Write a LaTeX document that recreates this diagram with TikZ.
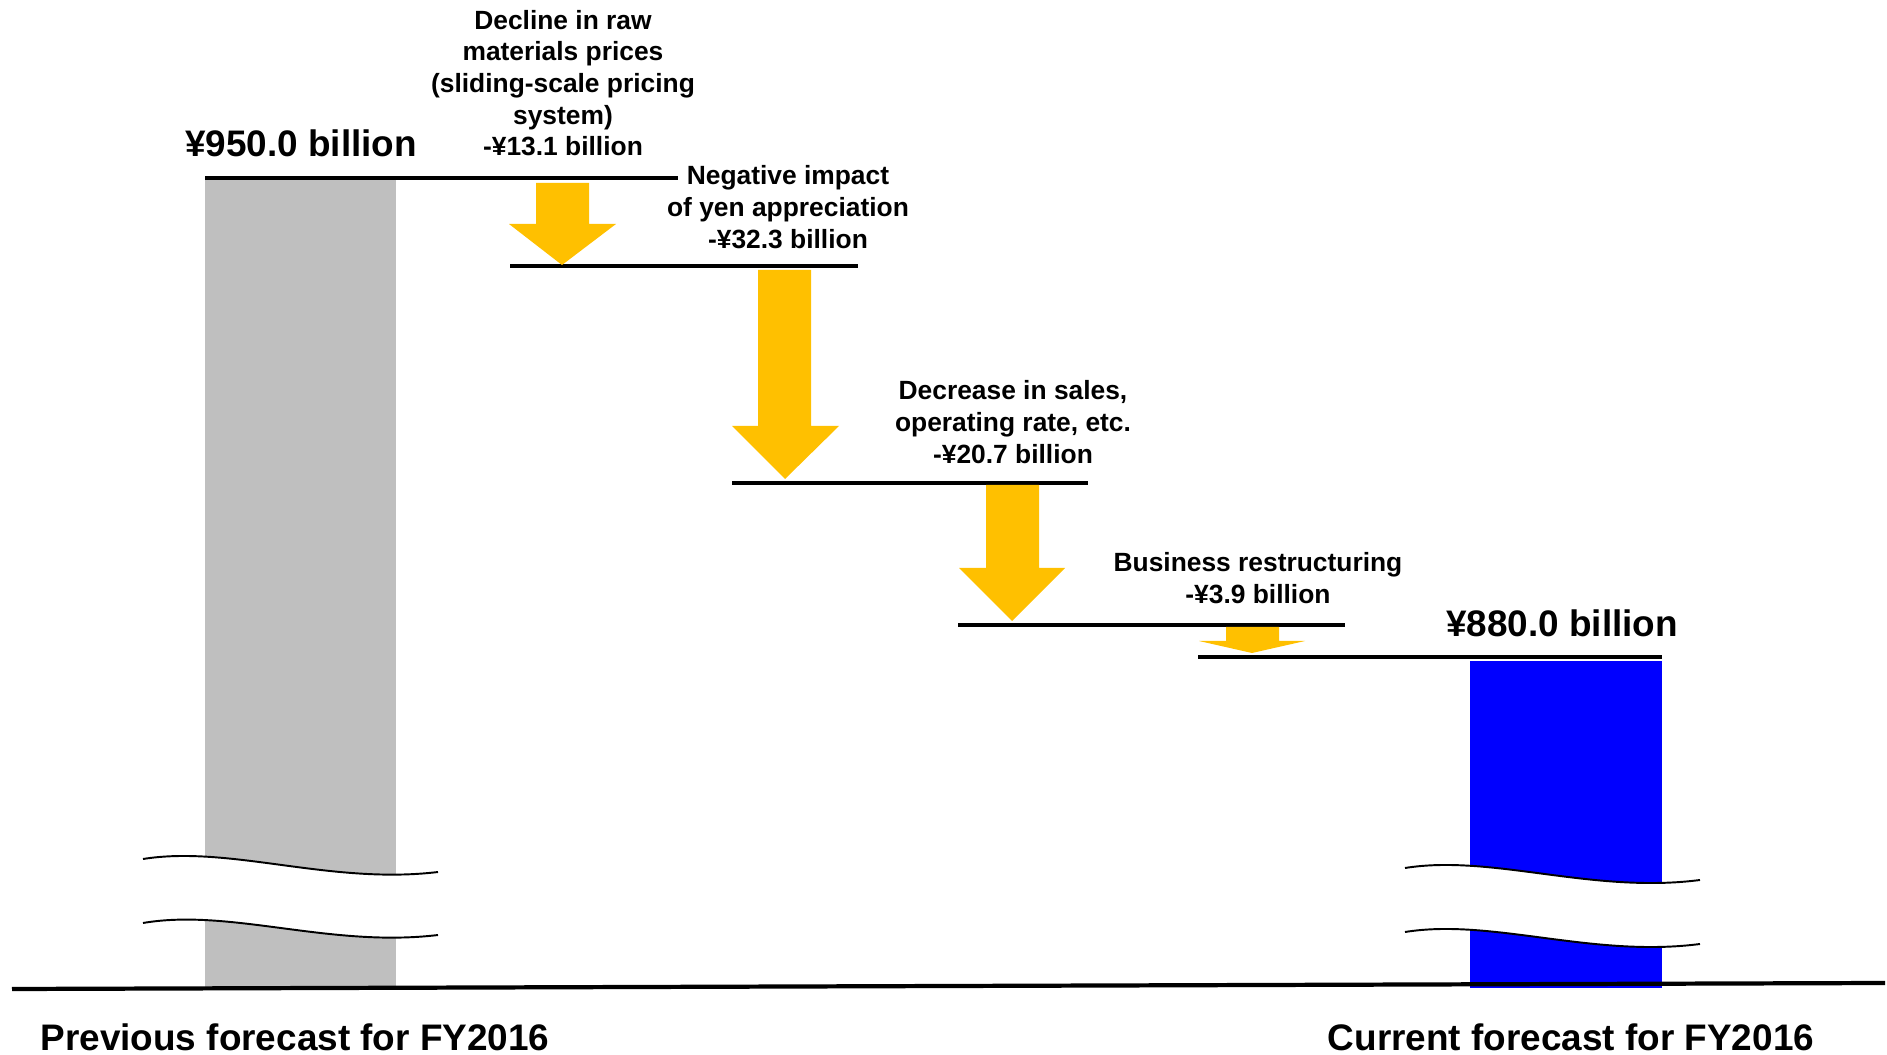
\documentclass[tikz,border=0pt]{standalone}
\usepackage{fontspec}
\setmainfont{Liberation Sans}
\definecolor{prevgray}{RGB}{191,191,191}
\definecolor{dropgold}{RGB}{255,192,0}

\begin{document}
\begin{tikzpicture}[x=0.01cm, y=-0.01cm,
    level/.style = {line width=1pt},
    drop/.style = {fill=dropgold},
    wave/.style = {line width=0.55pt},
    big/.style = {inner sep=0pt, font=\fontsize{10.5}{12.6}\selectfont\bfseries},
    note/.style = {inner sep=0pt, align=center, font=\fontsize{7.5}{9}\selectfont\bfseries}]
    \useasboundingbox (0,0) rectangle (1887,1055);

    % bars
    \fill[prevgray] (205,178) rectangle (396,987);
    \fill[blue] (1470,661) rectangle (1662,988);

    % breaks
    \fill[white] (143,859) .. controls (230,845) and (330,885) .. (438,872)
        -- (438,935) .. controls (330,948) and (230,908) .. (143,923) -- cycle;
    \draw[wave] (143,859) .. controls (230,845) and (330,885) .. (438,872);
    \draw[wave] (143,923) .. controls (230,908) and (330,948) .. (438,935);
    \fill[white] (1405,868) .. controls (1492,854) and (1592,894) .. (1700,880)
        -- (1700,944) .. controls (1592,958) and (1492,918) .. (1405,932) -- cycle;
    \draw[wave] (1405,868) .. controls (1492,854) and (1592,894) .. (1700,880);
    \draw[wave] (1405,932) .. controls (1492,918) and (1592,958) .. (1700,944);

    % levels
    \coordinate (l1a) at (205,178);  \coordinate (l1b) at (678,178);
    \coordinate (l2a) at (510,266);  \coordinate (l2b) at (858,266);
    \coordinate (l3a) at (732,483);  \coordinate (l3b) at (1088,483);
    \coordinate (l4a) at (958,625);  \coordinate (l4b) at (1345,625);
    \coordinate (l5a) at (1198,657); \coordinate (l5b) at (1662,657);
    \draw[level] (l1a) -- (l1b);
    \draw[level] (l2a) -- (l2b);
    \draw[level] (l3a) -- (l3b);
    \draw[level] (l4a) -- (l4b);
    \draw[level] (l5a) -- (l5b);

    % arrows
    \fill[drop] (536,183) -- (589,183) -- (589,224) -- (616,224) -- (562,265) -- (509,224) -- (536,224) -- cycle;
    \fill[drop] (758,270) -- (811,270) -- (811,426) -- (839,426) -- (785,479) -- (732,426) -- (758,426) -- cycle;
    \fill[drop] (986,485) -- (1039,485) -- (1039,568) -- (1065,568) -- (1012,621) -- (959,568) -- (986,568) -- cycle;
    \fill[drop] (1226,627) -- (1279,627) -- (1279,641) -- (1305,641) -- (1252,653) -- (1199,641) -- (1226,641) -- cycle;

    % axis
    \coordinate (x0) at (12,989);
    \coordinate (x1) at (1885,983);
    \draw[line width=1.2pt] (x0) -- (x1);

    % labels
    \node[big] (prev) at (301,143) {¥950.0 billion};
    \node[big] (curr) at (1562,623) {¥880.0 billion};
    \node[note] (raw) at (563,83) {Decline in raw\\materials prices\\(sliding-scale pricing\\system)\\-¥13.1 billion};
    \node[note] (yen) at (788,207) {Negative impact\\of yen appreciation\\-¥32.3 billion};
    \node[note] (sales) at (1013,422) {Decrease in sales,\\operating rate, etc.\\-¥20.7 billion};
    \node[note] (restr) at (1258,578) {Business restructuring\\-¥3.9 billion};
    \node[big] (prevlab) at (295,1037) {Previous forecast for FY2016};
    \node[big] (currlab) at (1571,1037) {Current forecast for FY2016};
\end{tikzpicture}
\end{document}
